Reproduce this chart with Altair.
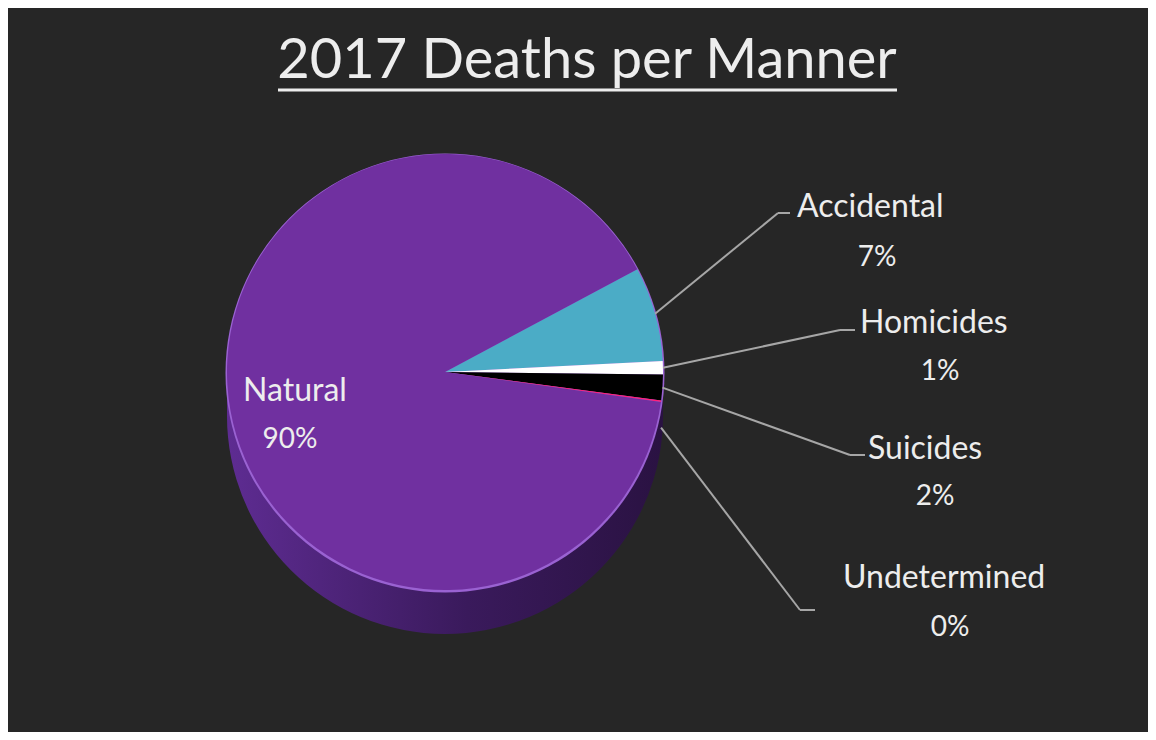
import math
import altair as alt
import pandas as pd

# ---- data ----
categories = ["Accidental", "Homicides", "Suicides", "Undetermined", "Natural"]
values = [7.0, 1.0, 1.9, 0.1, 90.0]
order_idx = [0, 1, 2, 3, 4]
slice_colors = ["#4BACC6", "#FFFFFF", "#000000", "#FF1F7A", "#7030A0"]
title_text = "2017 Deaths per Manner"

df = pd.DataFrame({"cat": categories, "val": values, "idx": order_idx})

# ---- layout (page coords -> chart coords: minus 8px margin) ----
W, H = 1140, 724
M = 8
CX, CY = 445 - M, 372 - M
R = 218
DEPTH = 44
START = 1.08  # radians clockwise from 12 o'clock
FONT = "Lato"
TXT = "#EDEDED"
LINE = "#A6A6A6"

base = alt.Chart(df)

side_grad = alt.Gradient(
    gradient="linear",
    stops=[alt.GradientStop(color="#5E2C92", offset=0),
           alt.GradientStop(color="#3A1A5C", offset=0.55),
           alt.GradientStop(color="#2A1242", offset=1)],
    x1=0, x2=1, y1=0, y2=0,
)

side_arc = base.transform_aggregate(total="sum(val)").mark_arc(
    radius=R, color=side_grad
).encode(
    theta=alt.Theta("total:Q", scale=alt.Scale(range=[START, START + 2 * math.pi])),
    x=alt.value(CX), y=alt.value(CY + DEPTH),
)

side_band = base.transform_aggregate(total="sum(val)").mark_rect(color=side_grad).encode(
    x=alt.value(CX - R), x2=alt.value(CX + R),
    y=alt.value(CY), y2=alt.value(CY + DEPTH),
)

rim = base.transform_aggregate(total="sum(val)").mark_arc(
    radius=R + 1.5, color="#9A62D2"
).encode(
    theta=alt.Theta("total:Q"),
    x=alt.value(CX), y=alt.value(CY + 1),
)

pie = base.mark_arc(radius=R).encode(
    theta=alt.Theta("val:Q", stack=True,
                    scale=alt.Scale(range=[START, START + 2 * math.pi])),
    color=alt.Color("cat:N", scale=alt.Scale(domain=categories, range=slice_colors),
                    legend=None),
    order=alt.Order("idx:Q"),
    x=alt.value(CX), y=alt.value(CY),
)

# leader lines: start on the pie edge at each slice's middle angle
total = sum(values)
cum = 0.0
mid_pt = {}
for c, v in zip(categories, values):
    a = START + 2 * math.pi * (cum + v / 2) / total
    mid_pt[c] = (CX + R * math.sin(a), CY - R * math.cos(a))
    cum += v

label_layout = {
    # name-x (left aligned), name-y, pct-x (center), pct-y, elbow, end
    "Accidental":   (797, 207, 877, 258, (778, 213), (790, 213), 0),
    "Homicides":    (860, 323, 940, 372, (840, 330), (855, 330), 0),
    "Suicides":     (868, 449, 935, 497, (850, 455), (865, 455), 0),
    "Undetermined": (843, 578, 950, 628, (800, 610), (815, 610), DEPTH * 0.6),
}

layers = [side_band, side_arc, rim, pie]

lab = base.transform_joinaggregate(tot="sum(val)").transform_calculate(
    pct="round(datum.val / datum.tot * 100) + '%'"
)

for c, (nx, ny, px, py, elbow, end, dy) in label_layout.items():
    sx, sy = mid_pt[c]
    sy += dy
    ex, ey = elbow[0] - M, elbow[1] - M
    layers.append(
        base.transform_filter(alt.datum.cat == c).mark_rule(color=LINE, strokeWidth=2).encode(
            x=alt.value(sx), y=alt.value(sy), x2=alt.value(ex), y2=alt.value(ey))
    )
    layers.append(
        base.transform_filter(alt.datum.cat == c).mark_rule(color=LINE, strokeWidth=2).encode(
            x=alt.value(ex), y=alt.value(ey), x2=alt.value(end[0] - M), y2=alt.value(end[1] - M))
    )
    layers.append(
        lab.transform_filter(alt.datum.cat == c).mark_text(
            font=FONT, fontSize=32, color=TXT, align="left", baseline="middle"
        ).encode(text="cat:N", x=alt.value(nx - M), y=alt.value(ny - M))
    )
    layers.append(
        lab.transform_filter(alt.datum.cat == c).mark_text(
            font=FONT, fontSize=28, color=TXT, align="center", baseline="middle"
        ).encode(text="pct:N", x=alt.value(px - M), y=alt.value(py - M))
    )

# Natural label inside the pie
layers.append(
    lab.transform_filter(alt.datum.cat == "Natural").mark_text(
        font=FONT, fontSize=32, color=TXT, align="center", baseline="middle"
    ).encode(text="cat:N", x=alt.value(295 - M), y=alt.value(391 - M))
)
layers.append(
    lab.transform_filter(alt.datum.cat == "Natural").mark_text(
        font=FONT, fontSize=28, color=TXT, align="center", baseline="middle"
    ).encode(text="pct:N", x=alt.value(290 - M), y=alt.value(440 - M))
)

# title with underline
layers.append(
    base.transform_filter(alt.datum.idx == 0).mark_text(
        font=FONT, fontSize=56, color=TXT, align="center", baseline="alphabetic"
    ).encode(text=alt.value(title_text), x=alt.value(587 - M), y=alt.value(78 - M))
)
layers.append(
    base.transform_filter(alt.datum.idx == 0).mark_rule(color=TXT, strokeWidth=3).encode(
        x=alt.value(278 - M), x2=alt.value(897 - M), y=alt.value(90 - M), y2=alt.value(90 - M))
)

chart = alt.layer(*layers).properties(
    width=W, height=H, background="#262626", padding=0,
    autosize=alt.AutoSizeParams(type="none"),
).configure_view(stroke=None)

chart.save("out.html", embed_options={"renderer": "svg", "actions": False})
